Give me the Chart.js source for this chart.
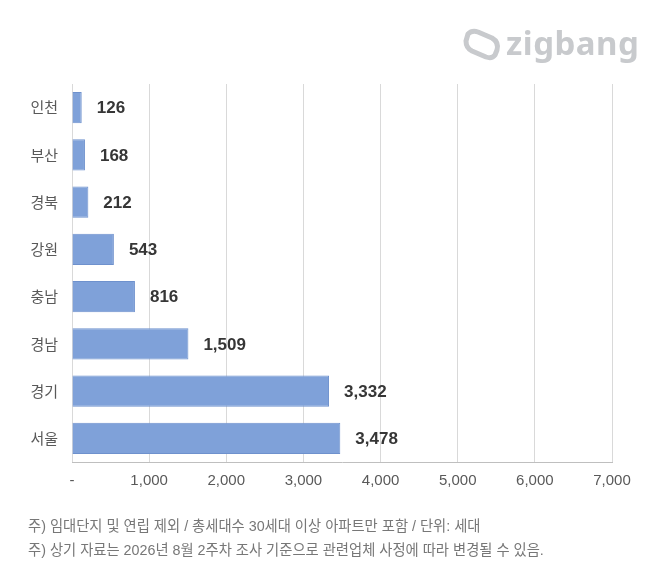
<!DOCTYPE html>
<html lang="ko">
<head>
<meta charset="utf-8">
<title>지역별 입주 물량</title>
<script src="https://cdn.jsdelivr.net/npm/chart.js@4.4.1/dist/chart.umd.min.js"></script>
<style>
    body { margin: 0; background: #fff; }
    #wrap { position: relative; width: 670px; height: 572px; overflow: hidden; }
    #chart { position: absolute; left: 0; top: 0; }
    .note {
        position: absolute; left: 28px;
        font: 14.3px 'Liberation Sans', 'Noto Sans CJK KR', sans-serif;
        color: #777777; line-height: 20px; white-space: nowrap;
    }
    #logo { position: absolute; left: 462px; top: 24px; height: 40px; }
    #logo svg { position: absolute; left: 0; top: 2px; }
    #logo span {
        position: absolute; left: 44px; top: -4px;
        font: bold 33px 'Noto Sans', sans-serif; color: #c8cacd; letter-spacing: 0.5px;
    }
</style>
</head>
<body>
<div id="wrap">
    <canvas id="chart" width="670" height="572"></canvas>
    <div id="logo">
        <svg width="40" height="36" viewBox="0 0 40 36">
            <path d="M6 8 Q10 4 16 6 L30 12 Q37 16 35 24 L33 29 Q30 33 24 31 L10 25 Q4 22 4 15 Z"
                  fill="none" stroke="#c8cacd" stroke-width="5" stroke-linejoin="round"/>
        </svg>
        <span>zigbang</span>
    </div>
    <div class="note" style="top:516px">주) 임대단지 및 연립 제외 / 총세대수 30세대 이상 아파트만 포함 / 단위: 세대</div>
    <div class="note" style="top:540px">주) 상기 자료는 2026년 8월 2주차 조사 기준으로 관련업체 사정에 따라 변경될 수 있음.</div>
</div>
<script>
// data
const regions = ['인천', '부산', '경북', '강원', '충남', '경남', '경기', '서울'];
const households = [126, 168, 212, 543, 816, 1509, 3332, 3478];
const xTickLabels = ['-', '1,000', '2,000', '3,000', '4,000', '5,000', '6,000', '7,000'];

// value labels at the end of each bar
const valueLabels = {
    id: 'valueLabels',
    afterDatasetsDraw(chart) {
        const ctx = chart.ctx;
        const meta = chart.getDatasetMeta(0);
        ctx.save();
        ctx.font = "bold 17px 'Liberation Sans', sans-serif";
        ctx.fillStyle = '#363636';
        ctx.textAlign = 'left';
        ctx.textBaseline = 'middle';
        meta.data.forEach((bar, i) => {
            ctx.fillText(households[i].toLocaleString('en-US'), bar.x + 15, bar.y + 1);
        });
        ctx.restore();
    }
};

new Chart(document.getElementById('chart'), {
    type: 'bar',
    data: {
        labels: regions,
        datasets: [{
            data: households,
            backgroundColor: '#7fa1d9',
            borderColor: '#6e91cd',
            borderWidth: 1,
            categoryPercentage: 1,
            barPercentage: 0.66
        }]
    },
    options: {
        indexAxis: 'y',
        responsive: false,
        animation: false,
        layout: { padding: { left: 0, right: 58, top: 84, bottom: 0 } },
        plugins: { legend: { display: false }, tooltip: { enabled: false } },
        scales: {
            x: {
                min: 0,
                max: 7000,
                ticks: {
                    stepSize: 1000,
                    padding: 10,
                    color: '#595959',
                    font: { family: "'Liberation Sans', sans-serif", size: 15 },
                    callback: (v, i) => xTickLabels[i]
                },
                grid: { color: '#d9d9d9', lineWidth: 1, drawTicks: false },
                border: { display: true, color: '#bfbfbf', width: 1 },
                afterFit: s => { s.height = 110; }
            },
            y: {
                ticks: {
                    padding: 14,
                    color: '#595959',
                    font: { family: "'Noto Sans CJK KR', sans-serif", size: 15 }
                },
                grid: { display: false, drawTicks: false },
                border: { display: false },
                afterFit: s => { s.width = 72; }
            }
        }
    },
    plugins: [valueLabels]
});
</script>
</body>
</html>
